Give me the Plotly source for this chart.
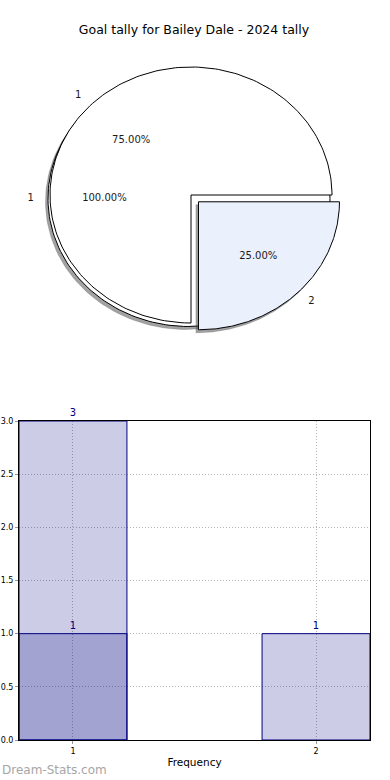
import numpy as np
import plotly.graph_objects as go

# ---------------- data ----------------
title_text = "Goal tally for Bailey Dale - 2024 tally"

pie_all_labels = ["1"]
pie_all_values = [1]

pie_labels = ["1", "2"]
pie_values = [3, 1]
pie_explode = [0, 0.075]
pie_colors = ["#ffffff", "#eaf0fc"]

bar_main_x = [1, 2]
bar_main_y = [3, 1]
bar_sub_x = [1]
bar_sub_y = [1]

y_ticks = [0.0, 0.5, 1.0, 1.5, 2.0, 2.5, 3.0]
x_ticks = [1, 2]
x_title = "Frequency"
watermark = "Dream-Stats.com"

# ---------------- geometry helpers ----------------
W, H = 390, 780
RX, RY = 141.0, 128.0
CXP, CYP = 191.0, 195.0
pie_xrange = [-CXP / RX, (W - CXP) / RX]
pie_yrange = [-(390 - CYP) / RY, CYP / RY]

A_off = (-2.0 / RX, -3.5 / RY)       # offset of the 100% pie
SH_off = (-2.5 / RX, -3.0 / RY)      # shadow offset
FONT = "DejaVu Sans"


def wedge(cx, cy, t1, t2, full=False, n=200):
    th = np.radians(np.linspace(t1, t2, n))
    xs = list(cx + np.cos(th))
    ys = list(cy + np.sin(th))
    if not full:
        xs = [cx] + xs + [cx]
        ys = [cy] + ys + [cy]
    return xs, ys


def pie_layout(values, explode, base=(0.0, 0.0)):
    total = float(sum(values))
    out = []
    start = 0.0
    for v, e in zip(values, explode):
        span = 360.0 * v / total
        mid = np.radians(start + span / 2)
        cx = base[0] + e * np.cos(mid)
        cy = base[1] + e * np.sin(mid)
        out.append(dict(t1=start, t2=start + span, cx=cx, cy=cy, mid=mid,
                        frac=v / total, full=(span >= 359.999)))
        start += span
    return out


fig = go.Figure()


def add_poly(xs, ys, fill, line_color, line_w):
    fig.add_trace(go.Scatter(x=xs, y=ys, mode="lines", fill="toself",
                             fillcolor=fill,
                             line=dict(color=line_color, width=line_w),
                             hoverinfo="skip", showlegend=False,
                             xaxis="x", yaxis="y"))


def add_text(x, y, txt, pos):
    fig.add_trace(go.Scatter(x=[x], y=[y], mode="text", text=[txt],
                             textposition=pos,
                             textfont=dict(family=FONT, size=10, color="#1a1a1a"),
                             hoverinfo="skip", showlegend=False,
                             xaxis="x", yaxis="y"))


SHADOW = "rgba(70,70,70,0.5)"

# pie A (100%)
wA = pie_layout(pie_all_values, [0], base=A_off)
for w in wA:
    xs, ys = wedge(w["cx"] + SH_off[0], w["cy"] + SH_off[1], w["t1"], w["t2"], w["full"])
    add_poly(xs, ys, SHADOW, "rgba(70,70,70,0.25)", 1)
for w in wA:
    xs, ys = wedge(w["cx"], w["cy"], w["t1"], w["t2"], w["full"])
    add_poly(xs, ys, "#ffffff", "#000000", 1)

# pie B (75 / 25)
wB = pie_layout(pie_values, pie_explode)
for i, w in enumerate(wB):
    if pie_explode[i] > 0:
        xs, ys = wedge(w["cx"] + SH_off[0], w["cy"] + SH_off[1], w["t1"], w["t2"], w["full"])
        add_poly(xs, ys, SHADOW, "rgba(70,70,70,0.25)", 1)
    xs, ys = wedge(w["cx"], w["cy"], w["t1"], w["t2"], w["full"])
    add_poly(xs, ys, pie_colors[i], "#000000", 1)

# pie texts
for lab, w in zip(pie_all_labels, wA):
    lx = w["cx"] + 1.1 * np.cos(w["mid"])
    ly = w["cy"] + 1.1 * np.sin(w["mid"])
    add_text(lx, ly, lab, "middle left" if lx < w["cx"] else "middle right")
    add_text(w["cx"] + 0.6 * np.cos(w["mid"]), w["cy"] + 0.6 * np.sin(w["mid"]),
             "%.2f%%" % (100 * w["frac"]), "middle center")
for lab, w in zip(pie_labels, wB):
    lx = w["cx"] + 1.1 * np.cos(w["mid"])
    ly = w["cy"] + 1.1 * np.sin(w["mid"])
    add_text(lx, ly, lab, "middle left" if np.cos(w["mid"]) < 0 else "middle right")
    add_text(w["cx"] + 0.6 * np.cos(w["mid"]), w["cy"] + 0.6 * np.sin(w["mid"]),
             "%.2f%%" % (100 * w["frac"]), "middle center")

# ---------------- bars ----------------
bar_fill = "rgba(0,0,128,0.2)"
for bx, by in [(bar_main_x, bar_main_y), (bar_sub_x, bar_sub_y)]:
    fig.add_trace(go.Bar(x=bx, y=by, width=0.444, xaxis="x2", yaxis="y2",
                         marker=dict(color=bar_fill, line=dict(color="#000080", width=1)),
                         text=[str(v) for v in by], textposition="outside",
                         textfont=dict(family=FONT, size=10, color="#000080"),
                         cliponaxis=False, showlegend=False, hoverinfo="skip"))

grid = dict(showgrid=True, gridcolor="#b4b4b4", griddash="1px,2px", gridwidth=1)

fig.update_layout(
    width=W, height=H, autosize=False,
    margin=dict(l=0, r=0, t=0, b=0, autoexpand=False),
    paper_bgcolor="white", plot_bgcolor="rgba(0,0,0,0)",
    barmode="overlay",
    title=dict(text=title_text, x=194 / W, xanchor="center", y=1 - 30 / H,
               yanchor="middle", font=dict(family=FONT, size=12.5, color="#000000")),
    xaxis=dict(domain=[0, 1], range=pie_xrange, visible=False, fixedrange=True,
               automargin=False),
    yaxis=dict(domain=[0.5, 1], range=pie_yrange, visible=False, fixedrange=True,
               automargin=False),
    xaxis2=dict(domain=[19 / W, 370 / W], anchor="y2", range=[0.778, 2.222],
                automargin=False,
                tickvals=x_ticks, ticktext=[str(t) for t in x_ticks],
                ticks="outside", ticklen=3, tickcolor="#999999",
                tickfont=dict(family=FONT, size=8, color="#000000"),
                showline=True, linecolor="#000000", linewidth=1, mirror=True,
                zeroline=False,
                title=dict(text=x_title, font=dict(family=FONT, size=10.5, color="#000000"),
                           standoff=4),
                **grid),
    yaxis2=dict(domain=[1 - 740 / H, 1 - 421 / H], anchor="x2", range=[0, 3],
                automargin=False,
                tickvals=y_ticks, tickformat=".1f",
                ticks="outside", ticklen=3, tickcolor="#999999",
                tickfont=dict(family=FONT, size=8, color="#000000"),
                showline=True, linecolor="#000000", linewidth=1, mirror=True,
                zeroline=False, **grid),
    annotations=[dict(text=watermark, x=0, y=1 - 770 / H, xref="paper", yref="paper",
                      xanchor="left", yanchor="middle", showarrow=False,
                      font=dict(family=FONT, size=12, color="#a6a6a6"))],
)

fig.write_html(
    "out.html",
    config={"displayModeBar": False, "staticPlot": True},
    post_script="document.body.style.margin='0px';document.body.style.overflow='hidden';"
                "document.documentElement.style.overflow='hidden';",
)
